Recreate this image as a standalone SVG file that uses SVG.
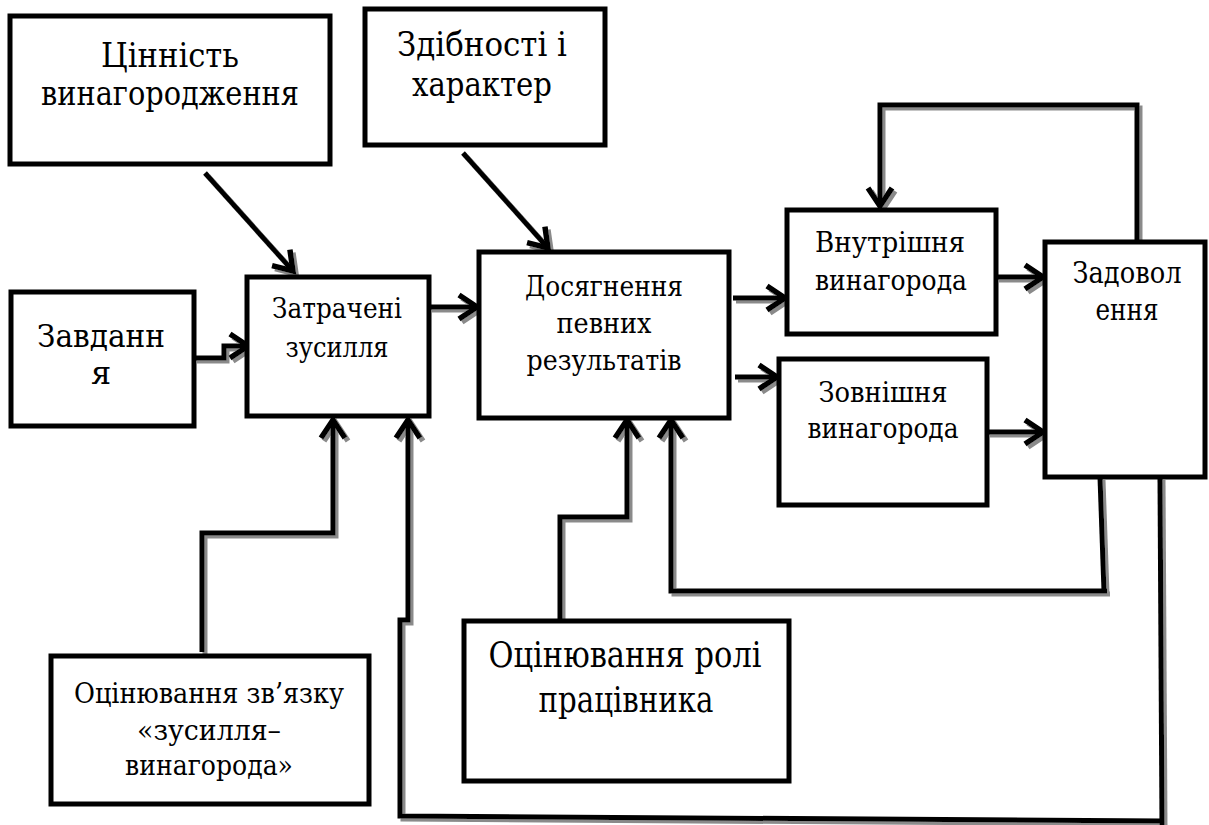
<svg xmlns="http://www.w3.org/2000/svg" width="1209" height="825" viewBox="0 0 1209 825">
<style>
.box{fill:#fff;stroke:#000;stroke-width:5}
.t{font-family:'DejaVu Serif',serif;fill:#000;text-anchor:middle}
.c{fill:none;stroke:#000;stroke-width:5;stroke-linejoin:miter}
</style>
<defs>
<marker id="ah" markerUnits="userSpaceOnUse" markerWidth="32" markerHeight="32" viewBox="-24 -16 28 32" refX="0" refY="0" orient="auto">
<path d="M-18,-12 L0,0 L-18,12" fill="none" stroke="#000" stroke-width="5.5" stroke-linejoin="miter"/>
</marker>
<filter id="sh" x="-10%" y="-10%" width="120%" height="120%">
<feDropShadow dx="3" dy="3" stdDeviation="0.6" flood-color="#8a8a8a" flood-opacity="1"/>
</filter>
</defs>
<rect width="1209" height="825" fill="#fff"/>
<g id="connectors" filter="url(#sh)">
<path class="c" d="M205,173 L293,271" marker-end="url(#ah)"/>
<path class="c" d="M463,153 L548,248" marker-end="url(#ah)"/>
<path class="c" d="M194,358 H224 V346 H248" marker-end="url(#ah)"/>
<path class="c" d="M429,307 H477" marker-end="url(#ah)"/>
<path class="c" d="M733,298 H785" marker-end="url(#ah)"/>
<path class="c" d="M735,377 H777" marker-end="url(#ah)"/>
<path class="c" d="M996,277 H1043" marker-end="url(#ah)"/>
<path class="c" d="M987,432 H1043" marker-end="url(#ah)"/>
<path class="c" d="M1137,242 V105 H880 V206" marker-end="url(#ah)"/>
<path class="c" d="M202,652 V533 H333 V420" marker-end="url(#ah)"/>
<path class="c" d="M1160,477 L1162,825"/>
<path class="c" d="M1162,821 L400,816 V620 H408 V420" marker-end="url(#ah)"/>
<path class="c" d="M560,619 V517 H627 V420" marker-end="url(#ah)"/>
<path class="c" d="M1100,477 L1104,591"/>
<path class="c" d="M1107,591 H671 V420" marker-end="url(#ah)"/>
</g>
<g id="n-cinnist"><rect class="box" x="10" y="16" width="320" height="148"/>
<text class="t" font-size="33" x="170" y="67" textLength="138" lengthAdjust="spacingAndGlyphs">Цінність</text><text class="t" font-size="33" x="170" y="105" textLength="258" lengthAdjust="spacingAndGlyphs">винагородження</text></g>
<g id="n-zdibnosti"><rect class="box" x="365" y="9" width="240" height="136"/>
<text class="t" font-size="33" x="482" y="56" textLength="170" lengthAdjust="spacingAndGlyphs">Здібності і</text><text class="t" font-size="33" x="482" y="96" textLength="140" lengthAdjust="spacingAndGlyphs">характер</text></g>
<g id="n-zavdannya"><rect class="box" x="11" y="292" width="183" height="134"/>
<text class="t" font-size="32" x="101" y="347" textLength="128" lengthAdjust="spacingAndGlyphs">Завданн</text><text class="t" font-size="32" x="101" y="384">я</text></g>
<g id="n-zatracheni"><rect class="box" x="247" y="277" width="182" height="139"/>
<text class="t" font-size="28" x="337" y="318" textLength="130" lengthAdjust="spacingAndGlyphs">Затрачені</text><text class="t" font-size="28" x="337" y="357" textLength="103" lengthAdjust="spacingAndGlyphs">зусилля</text></g>
<g id="n-dosyagnennya"><rect class="box" x="479" y="252" width="250" height="166"/>
<text class="t" font-size="27" x="604" y="296" textLength="158" lengthAdjust="spacingAndGlyphs">Досягнення</text><text class="t" font-size="27" x="604" y="333" textLength="95" lengthAdjust="spacingAndGlyphs">певних</text><text class="t" font-size="27" x="604" y="370" textLength="155" lengthAdjust="spacingAndGlyphs">результатів</text></g>
<g id="n-vnutrishnya"><rect class="box" x="787" y="210" width="209" height="124"/>
<text class="t" font-size="28" x="890" y="252" textLength="150" lengthAdjust="spacingAndGlyphs">Внутрішня</text><text class="t" font-size="28" x="891" y="290" textLength="152" lengthAdjust="spacingAndGlyphs">винагорода</text></g>
<g id="n-zovnishnya"><rect class="box" x="779" y="359" width="208" height="146"/>
<text class="t" font-size="28" x="883" y="402" textLength="129" lengthAdjust="spacingAndGlyphs">Зовнішня</text><text class="t" font-size="28" x="883" y="438" textLength="151" lengthAdjust="spacingAndGlyphs">винагорода</text></g>
<g id="n-zadovolennya"><rect class="box" x="1045" y="242" width="160" height="235"/>
<text class="t" font-size="29" x="1127" y="283" textLength="109" lengthAdjust="spacingAndGlyphs">Задовол</text><text class="t" font-size="29" x="1127" y="320" textLength="63" lengthAdjust="spacingAndGlyphs">ення</text></g>
<g id="n-otsinyuvannya-zvyazku"><rect class="box" x="51" y="656" width="318" height="148"/>
<text class="t" font-size="28" x="209" y="703" textLength="270" lengthAdjust="spacingAndGlyphs">Оцінювання зв’язку</text><text class="t" font-size="28" x="209" y="740" textLength="144" lengthAdjust="spacingAndGlyphs">«зусилля–</text><text class="t" font-size="28" x="209" y="775" textLength="168" lengthAdjust="spacingAndGlyphs">винагорода»</text></g>
<g id="n-otsinyuvannya-roli"><rect class="box" x="464" y="621" width="325" height="160"/>
<text class="t" font-size="35" x="625" y="667" textLength="273" lengthAdjust="spacingAndGlyphs">Оцінювання ролі</text><text class="t" font-size="35" x="626" y="712" textLength="175" lengthAdjust="spacingAndGlyphs">працівника</text></g>
</svg>
